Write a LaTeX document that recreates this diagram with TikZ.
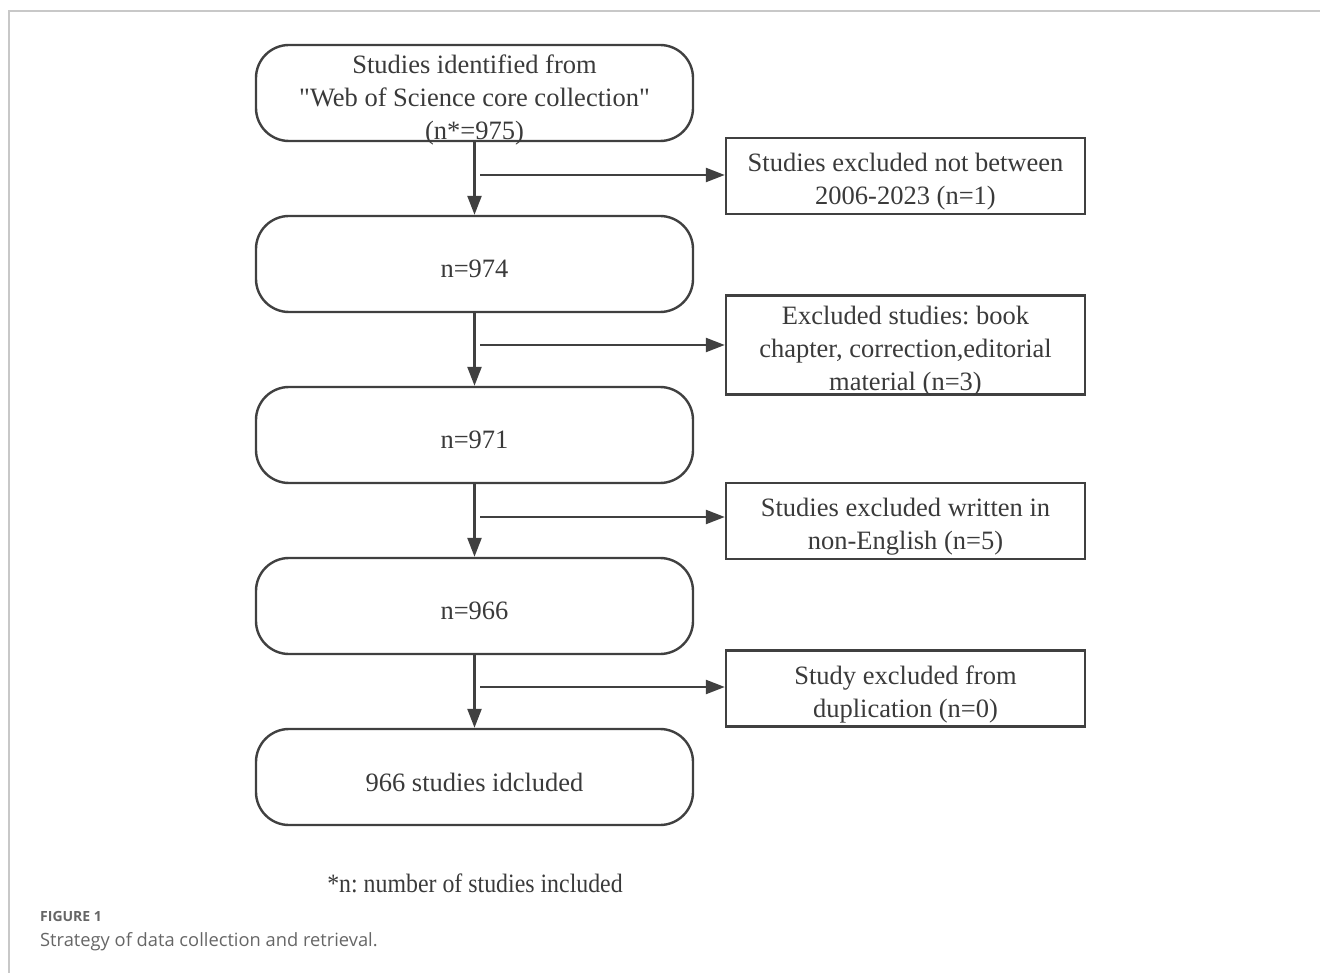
\documentclass[tikz,border=0pt]{standalone}
\usepackage{fontspec}
\usepackage{graphicx}
\setmainfont{Liberation Serif}
\newfontfamily\capfont{Open Sans}
\usetikzlibrary{arrows.meta}
\definecolor{ln}{HTML}{404040}
\definecolor{tx}{HTML}{3A3A3A}
\definecolor{frame}{HTML}{C8C8C8}
\definecolor{captx}{HTML}{666666}
\frenchspacing
\begin{document}
\begin{tikzpicture}[x=1pt,y=-1pt,
  every node/.style={text=tx,font=\fontsize{26.5}{33}\selectfont},
  rbox/.style={draw=ln,line width=2.4pt,rounded corners=33pt,minimum width=437pt,minimum height=96pt,inner sep=0pt},
  sbox/.style={draw=ln,line width=2.4pt,minimum width=359pt,minimum height=76pt,inner sep=0pt},
  txt/.style={inner sep=0pt,align=center},
  arr/.style={draw=ln,line width=2.4pt,-{Triangle[length=19pt,width=14pt]}},
  capline/.style={draw=frame,line width=2pt}]
\useasboundingbox (0,0) rectangle (1320,973);
\coordinate (f1) at (9,11);
\coordinate (f2) at (1320,11);
\coordinate (f3) at (9,973);
\draw[capline] (f2) -- (f1) -- (f3);

\node[rbox] (b1) at (474.5,93) {};
\node[rbox] (b2) at (474.5,264) {};
\node[rbox] (b3) at (474.5,435) {};
\node[rbox] (b4) at (474.5,606) {};
\node[rbox] (b5) at (474.5,777) {};
\node[txt] (t1) at ([yshift=-7pt]b1.center) {Studies identified from\\\textquotedbl Web of Science core collection\textquotedbl\\(n*=975)};
\node[txt] (t2) at ([yshift=-5pt]b2.center) {n=974};
\node[txt] (t3) at ([yshift=-5pt]b3.center) {n=971};
\node[txt] (t4) at ([yshift=-5pt]b4.center) {n=966};
\node[txt] (t5) at ([yshift=-5pt]b5.center) {966 studies idcluded};

\node[sbox] (r1) at (905.5,176) {};
\node[sbox,minimum height=99pt] (r2) at (905.5,345) {};
\node[sbox] (r3) at (905.5,521) {};
\node[sbox] (r4) at (905.5,688.5) {};
\node[txt] (s1) at ([yshift=-6pt]r1.center) {Studies excluded not between\\2006-2023 (n=1)};
\node[txt] (s2) at ([yshift=-6pt]r2.center) {Excluded studies: book\\chapter, correction,editorial\\material (n=3)};
\node[txt] (s3) at ([yshift=-6pt]r3.center) {Studies excluded written in\\non-English (n=5)};
\node[txt] (s4) at ([yshift=-6pt]r4.center) {Study excluded from\\duplication (n=0)};

\draw[arr] (b1.south) -- (b2.north);
\draw[arr] (b2.south) -- (b3.north);
\draw[arr] (b3.south) -- (b4.north);
\draw[arr] (b4.south) -- (b5.north);

\coordinate (h1) at (480,175);
\coordinate (h2) at (480,345);
\coordinate (h3) at (480,517);
\coordinate (h4) at (480,687);
\draw[arr] (h1) -- (h1 -| r1.west);
\draw[arr] (h2) -- (h2 -| r2.west);
\draw[arr] (h3) -- (h3 -| r3.west);
\draw[arr] (h4) -- (h4 -| r4.west);

\node[anchor=base,inner sep=0pt] (note) at (475,892) {\scalebox{0.9}[1]{*n: number of studies included}};
\node[anchor=base west,inner sep=0pt,text=captx,font=\capfont\bfseries\fontsize{14}{16}\selectfont] (fig) at (40,921.5) {FIGURE 1};
\node[anchor=base west,inner sep=0pt,text=captx,font=\capfont\fontsize{18.3}{22}\selectfont] (cap) at (40,946) {Strategy of data collection and retrieval.};
\end{tikzpicture}
\end{document}
